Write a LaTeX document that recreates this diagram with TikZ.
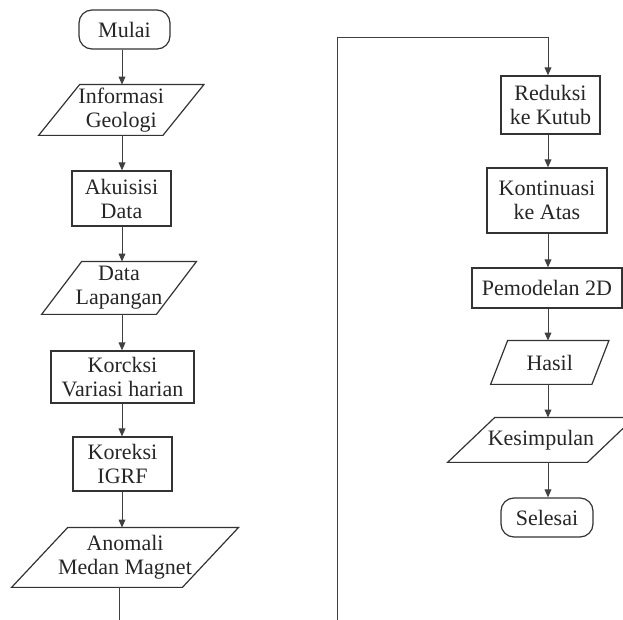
\documentclass[tikz,border=0pt]{standalone}
\usepackage{fontspec}
\setmainfont{Liberation Serif}
\usetikzlibrary{calc,arrows.meta}
\tikzset{
  lbl/.style={inner sep=0pt, align=center, font=\fontsize{11}{12}\selectfont, text=black!85},
  boxline/.style={draw=black!80, line width=0.6pt},
  procbox/.style={lbl, rectangle, boxline},
  termbox/.style={lbl, rectangle, boxline, rounded corners=6.5pt},
  iobox/.style={lbl, rectangle},
  arr/.style={draw=black!75, line width=0.5pt, -{Triangle[length=4pt,width=3.4pt]}},
  flow/.style={draw=black!75, line width=0.5pt}
}
\newcommand{\parashape}[2]{\draw[boxline] ($(#1.north west)+(#2,0)$) -- ($(#1.north east)+(#2,0)$) -- ($(#1.south east)-(#2,0)$) -- ($(#1.south west)-(#2,0)$) -- cycle;}
\begin{document}
\begin{tikzpicture}[x=0.5pt,y=-0.5pt]
\useasboundingbox (0,0) rectangle (623,620);
% left column
\node[termbox, minimum width=45.5pt, minimum height=19.5pt] (mulai) at (124.5,29.5) {Mulai};
\node[iobox, minimum width=61.75pt, minimum height=25pt] (info) at (121.25,110) {Informasi\\Geologi};
\parashape{info}{20.5}
\node[procbox, minimum width=49.5pt, minimum height=27.5pt] (akuisisi) at (121.5,198.5) {Akuisisi\\Data};
\node[iobox, minimum width=57pt, minimum height=26pt] (lapangan) at (119,288) {Data\\Lapangan};
\parashape{lapangan}{20}
\node[procbox, minimum width=71.5pt, minimum height=26pt] (korcksi) at (122.5,377) {Korcksi\\Variasi harian};
\node[procbox, minimum width=49.5pt, minimum height=27pt] (igrf) at (122.5,464) {Koreksi\\IGRF};
\node[iobox, minimum width=85pt, minimum height=29.5pt] (anomali) at (125,557.5) {Anomali\\Medan Magnet};
\parashape{anomali}{28}
\coordinate (xL) at (122,0);
\coordinate (endL) at (119,620);
\draw[arr] (xL |- mulai.south) -- (xL |- info.north);
\draw[arr] (xL |- info.south) -- (xL |- akuisisi.north);
\draw[arr] (xL |- akuisisi.south) -- (xL |- lapangan.north);
\draw[arr] (xL |- lapangan.south) -- (xL |- korcksi.north);
\draw[arr] (xL |- korcksi.south) -- (xL |- igrf.north);
\draw[arr] (xL |- igrf.south) -- (xL |- anomali.north);
\draw[flow] (endL |- anomali.south) -- (endL);
% right column
\node[procbox, minimum width=49.5pt, minimum height=29pt] (reduksi) at (550.5,105) {Reduksi\\ke Kutub};
\node[procbox, minimum width=60pt, minimum height=32.5pt] (kontinuasi) at (547,200.5) {Kontinuasi\\ke Atas};
\node[procbox, minimum width=75pt, minimum height=20pt] (pemodelan) at (547,288) {Pemodelan 2D};
\node[iobox, minimum width=50.25pt, minimum height=21.5pt] (hasil) at (549.75,362.5) {Hasil};
\parashape{hasil}{8.5}
\node[iobox, minimum width=69.5pt, minimum height=22pt] (kesimpulan) at (541,440) {Kesimpulan};
\parashape{kesimpulan}{23.5}
\node[termbox, minimum width=46pt, minimum height=19.5pt] (selesai) at (547,517.5) {Selesai};
\coordinate (xR) at (548,0);
\coordinate (endR) at (337,620);
\coordinate (cornerR) at (337,38);
\draw[arr] (endR) -- (cornerR) -- (xR |- cornerR) -- (xR |- reduksi.north);
\draw[arr] (xR |- reduksi.south) -- (xR |- kontinuasi.north);
\draw[arr] (xR |- kontinuasi.south) -- (xR |- pemodelan.north);
\draw[arr] (xR |- pemodelan.south) -- (xR |- hasil.north);
\draw[arr] (xR |- hasil.south) -- (xR |- kesimpulan.north);
\draw[arr] (xR |- kesimpulan.south) -- (xR |- selesai.north);
\end{tikzpicture}
\end{document}
